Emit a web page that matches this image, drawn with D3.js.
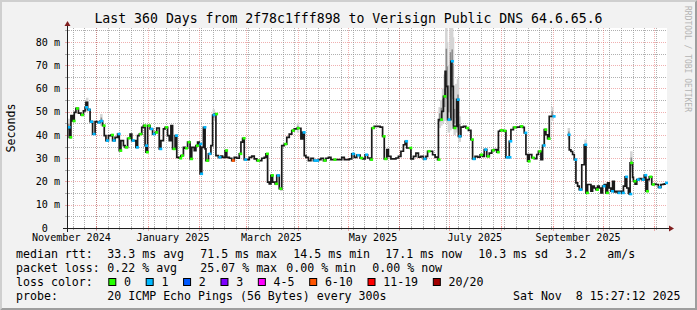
<!DOCTYPE html>
<html lang="en">
<head>
<meta charset="utf-8">
<title>Last 360 Days - Verisign Public DNS</title>
<script src="https://d3js.org/d3.v7.min.js"></script>
<style>
  body { margin: 0; background: #f2f2f2; }
  svg { display: block; font-family: "DejaVu Sans Mono", monospace; }
</style>
</head>
<body>
<script>
// median rtt (ms) per 12h rrd row; null = no data
const dates = [
  "24-11-14 00","24-11-15 00","24-11-16 00","24-11-17 00","24-11-18 00","24-11-19 00","24-11-20 12","24-11-22 00","24-11-23 12","24-11-24 12",
  "24-11-25 00","24-11-26 00","24-11-27 12","24-11-29 00","24-11-30 12","24-12-02 00","24-12-03 12","24-12-05 00","24-12-06 00","24-12-07 00",
  "24-12-08 12","24-12-10 00","24-12-11 00","24-12-12 12","24-12-14 00","24-12-15 00","24-12-16 00","24-12-17 12","24-12-18 12","24-12-20 00",
  "24-12-21 12","24-12-22 12","24-12-24 00","24-12-25 00","24-12-26 00","24-12-27 00","24-12-28 12","24-12-29 12","24-12-30 12","24-12-31 00",
  "25-01-01 00","25-01-02 12","25-01-04 00","25-01-05 12","25-01-06 12","25-01-08 00","25-01-09 00","25-01-10 12","25-01-11 12","25-01-13 00",
  "25-01-14 00","25-01-15 00","25-01-16 00","25-01-17 12","25-01-18 12","25-01-20 00","25-01-21 00","25-01-22 12","25-01-23 12","25-01-25 00",
  "25-01-26 12","25-01-27 12","25-01-29 00","25-01-30 00","25-01-31 00","25-02-01 00","25-02-01 12","25-02-02 12","25-02-03 12","25-02-04 12",
  "25-02-05 00","25-02-06 12","25-02-08 00","25-02-09 00","25-02-10 12","25-02-11 00","25-02-12 12","25-02-14 00","25-02-15 00","25-02-16 12",
  "25-02-17 12","25-02-19 00","25-02-20 12","25-02-22 00","25-02-23 12","25-02-25 00","25-02-26 00","25-02-27 00","25-02-28 00","25-03-01 12",
  "25-03-03 00","25-03-04 12","25-03-06 00","25-03-07 12","25-03-09 00","25-03-10 12","25-03-12 00","25-03-13 00","25-03-14 00","25-03-15 00",
  "25-03-16 00","25-03-17 00","25-03-18 12","25-03-19 12","25-03-21 00","25-03-22 00","25-03-22 12","25-03-24 00","25-03-25 12","25-03-27 00",
  "25-03-28 12","25-03-30 00","25-03-31 12","25-04-02 00","25-04-03 00","25-04-04 00","25-04-05 00","25-04-06 00","25-04-07 12","25-04-09 00",
  "25-04-10 12","25-04-12 00","25-04-13 12","25-04-15 00","25-04-16 12","25-04-18 00","25-04-19 12","25-04-21 00","25-04-22 12","25-04-24 12",
  "25-04-26 12","25-04-27 12","25-04-29 00","25-04-30 12","25-05-02 00","25-05-03 12","25-05-05 00","25-05-06 12","25-05-08 12","25-05-10 00",
  "25-05-11 12","25-05-13 00","25-05-14 12","25-05-15 12","25-05-17 00","25-05-18 12","25-05-20 12","25-05-22 00","25-05-23 00","25-05-24 12",
  "25-05-25 12","25-05-27 00","25-05-28 12","25-05-30 00","25-05-31 12","25-06-02 00","25-06-03 12","25-06-04 12","25-06-05 12","25-06-07 00",
  "25-06-08 00","25-06-09 12","25-06-11 00","25-06-12 12","25-06-14 00","25-06-15 12","25-06-17 00","25-06-18 00","25-06-19 12","25-06-21 00",
  "25-06-22 12","25-06-24 00","25-06-24 12","25-06-25 12","25-06-26 12","25-06-27 12","25-06-28 12","25-06-29 00","25-06-30 00","25-07-01 00",
  "25-07-02 00","25-07-02 12","25-07-03 12","25-07-04 12","25-07-05 12","25-07-06 12","25-07-08 00","25-07-09 12","25-07-11 00","25-07-12 12",
  "25-07-14 00","25-07-15 00","25-07-16 12","25-07-18 00","25-07-19 12","25-07-21 00","25-07-22 00","25-07-23 12","25-07-25 00","25-07-26 12",
  "25-07-28 00","25-07-29 12","25-07-30 12","25-07-31 12","25-08-02 12","25-08-04 00","25-08-05 12","25-08-06 00","25-08-07 00","25-08-08 12",
  "25-08-10 12","25-08-12 12","25-08-14 00","25-08-15 00","25-08-16 00","25-08-17 00","25-08-18 00","25-08-19 12","25-08-21 00","25-08-22 12",
  "25-08-23 12","25-08-25 00","25-08-26 00","25-08-27 00","25-08-28 00","25-08-29 00","25-08-30 00","25-08-31 00","25-09-01 00","25-09-02 00",
  "25-09-10 00","25-09-11 00","25-09-12 00","25-09-13 00","25-09-14 00","25-09-15 00","25-09-16 00","25-09-17 00","25-09-18 12","25-09-20 00",
  "25-09-21 00","25-09-22 00","25-09-23 00","25-09-24 00","25-09-25 00","25-09-26 00","25-09-27 00","25-09-28 00","25-09-29 00","25-09-30 00",
  "25-10-01 00","25-10-02 00","25-10-03 00","25-10-04 00","25-10-05 00","25-10-06 00","25-10-07 00","25-10-08 00","25-10-09 00","25-10-10 00",
  "25-10-11 00","25-10-12 12","25-10-13 12","25-10-14 12","25-10-15 12","25-10-16 12","25-10-17 00","25-10-17 12","25-10-19 00","25-10-19 12",
  "25-10-20 12","25-10-21 12","25-10-23 00","25-10-24 12","25-10-26 00","25-10-27 00","25-10-28 00","25-10-29 00","25-10-30 12","25-11-01 00",
  "25-11-02 00","25-11-03 12","25-11-05 00","25-11-06 12","25-11-07 12"
];
const rtt = [
  43.3,39,48.3,46,49.7,51.4,49.4,48.6,50.4,51.9,
  54,50.9,45.7,40.4,45.7,45.4,46,44,39.7,37.6,
  39.7,40,37.6,39,40.4,33.3,37.6,35.4,34.7,38.6,
  40.4,37.6,37.6,34.7,39.7,40.4,43.3,44,35.4,32.6,
  44,42.6,40.4,41.1,43,34,37.6,42.6,43.3,39.7,
  37.6,44,34,39.7,30.4,30,31.1,34.7,34.3,36.9,
  29.7,34.7,33.3,35.4,36.9,36.1,23.3,34.7,43.3,34,
  29,31.9,35.4,48.6,49,31.1,30.4,30.9,30.4,33.3,
  30.4,30,29,30.4,30,31.9,36.9,38.6,29.4,29.4,
  30.4,30.9,29.7,29,29,30,30.4,31.9,19.7,19,
  22.6,19.7,19,22.6,16.9,16.6,35.4,36.1,39,40.4,
  41.9,42.6,42.9,42.9,38.3,41.1,31.1,30.4,29,30,
  29,29,29.4,30,29,30,30.4,29.4,29.4,29.4,
  29.4,30.4,29.4,29.4,29.7,31.9,30.4,31.3,30.1,29.7,
  31.5,30.1,29.4,43,43.7,43.7,43.4,39.4,29.7,33.7,
  30.8,29.7,29.7,30.1,30.8,33,35.8,37.3,34.4,34.4,
  29.7,30.8,32.2,30.5,30.8,29.7,30.8,33,33,31.5,
  30.5,29.4,46.6,46.6,50.2,56.6,67.4,60.9,46.6,46.6,
  71.7,60.9,43,43.7,55.2,39.4,43.4,43.7,43,42,
  38,29.7,30.8,30.5,31.5,30.8,33.7,30.8,32.2,33.4,
  33.7,32.6,41.6,42,41.8,30.4,30.4,37.3,42.3,43.3,
  43.4,43.7,43.3,40.9,31.6,28.7,31.6,30.2,29.8,31.6,
  33,29.4,35.5,42.3,40.1,38.4,48,48,48,null,
  40.1,33.6,32.9,31.6,29.4,19.4,18,16.5,27.2,35.8,
  15.1,18.7,18.7,15.8,18,17.2,16.5,18,17.2,15.1,
  18,18.7,15.1,19.4,17.2,15.8,20.1,15.5,15.8,15.1,
  15.8,15.1,18,22,17.2,15.1,14.6,28,21.8,20.1,
  18.9,20.8,21.2,20.8,22.7,15.8,20.8,22,18.7,18.9,
  18.7,17.5,18.7,18.9,19.4
];
// loss class shown on the median ("" = not visible under the smoke)
const loss = [
  "1","0","","0","","0","","0","","1",
  "","1","1","1","","1","1","0","","1",
  "","0","1","","1","0","","","0","0",
  "","1","","1","","0","","0","1","0",
  "0","1","1","0","","1","","","0","",
  "","","0","1","","0","0","","0","0",
  "0","","","0","","1","1","","1","",
  "0","1","","1","0","","1","","","0",
  "","","6-10","","","0","","0","1","",
  "","","","0","","","","0","","",
  "0","","0","1","0","","","0","","",
  "0","","0","","","1","","","","",
  "1","1","","","0","","","","0","",
  "","","","","","1","","1","0","",
  "1","","0","0","","","","0","0","",
  "","","","","","","","1","","0",
  "","","","","","1","","0","","",
  "","0","","0","","0","","","1","",
  "1","","0","","1","1","","","0","",
  "0","1","","","0","","1","0","","0",
  "","0","","0","0","1","1","1","","0",
  "","0","","1","","0","","0","","",
  "0","","1","0","","0","","","1","",
  "1","","","","1","","","1","","1",
  "0","","","","","","0","","","",
  "1","","0","","","1","","","","1",
  "","1","","1","","","1","0","","0",
  "","1","","1","1","0","","0","0","",
  "","1","","","1"
];
// visible ping spread (smoke), ms
const smokeDates = ["24-11-14 00","24-11-25 00","24-12-03 12","25-02-09 00","25-03-31 12",
  "25-06-24 12","25-06-25 12","25-06-26 12","25-06-27 12","25-06-28 12","25-06-29 00","25-06-30 00",
  "25-07-01 00","25-07-02 00","25-07-02 12","25-07-03 12","25-07-04 12","25-07-05 12","25-07-06 12",
  "25-08-31 00","25-09-10 00","25-09-20 00","25-10-17 12"];
const smokeLo = [40,50,44,46,41, 43,44,45,46,47,45,41, 42,46,44,40,41,42,37, 46,38,30,24];
const smokeHi = [47,56,49,51,45, 52,55,60,66,90,80,70, 90,90,82,56,62,64,48, 52,43,38,33];

const lossLabels = ["0","1","2","3","4-5","6-10","11-19","20/20"];
const lossColors = ["#26ff00","#00b8ff","#0059ff","#7e00ff","#ff00ff","#ff5500","#ff0000","#a10000"];

const yTicks = [0,10,20,30,40,50,60,70,80];
const labelMonths = ["2024-11","2025-01","2025-03","2025-05","2025-07","2025-09"];

const rttStats = ["33.3 ms avg","71.5 ms max","14.5 ms min","17.1 ms now","10.3 ms sd","3.2","am/s"];
const lossStats = ["0.22 % avg","25.07 % max","0.00 % min","0.00 % now"];

// ---- layout
const W = 697, H = 310;
const pLeft = 67, pTop = 28, pw = 600, ph = 200;
const end = new Date(2025, 10, 8, 15, 27, 12);
const start = d3.timeDay.offset(end, -360);

const parse = d3.timeParse("%y-%m-%d %H");
const x = d3.scaleTime().domain([start, end]).range([pLeft, pLeft + pw]);
const y = d3.scaleLinear().domain([0, 86]).range([pTop + ph, pTop]);
const lossColor = d3.scaleOrdinal(lossLabels, lossColors);

const svg = d3.select("body").append("svg").attr("width", W).attr("height", H);

// background + bevel
svg.append("rect").attr("width", W).attr("height", H).attr("fill", "#f2f2f2");
svg.append("polygon").attr("fill", "#cfcfcf")
  .attr("points", `0,0 ${W},0 ${W-2},2 2,2 2,${H-2} 0,${H}`);
svg.append("polygon").attr("fill", "#9e9e9e")
  .attr("points", `2,${H-2} ${W-2},${H-2} ${W-2},2 ${W},0 ${W},${H} 0,${H}`);
svg.append("rect").attr("x", pLeft).attr("y", pTop).attr("width", pw).attr("height", ph).attr("fill", "#fff");

svg.append("defs").append("clipPath").attr("id", "plot")
  .append("rect").attr("x", pLeft).attr("y", pTop).attr("width", pw + 1).attr("height", ph);

const crisp = v => Math.round(v) + 0.5;
const gridCol = "rgba(143,143,143,0.7)", mgridCol = "rgba(222,79,79,0.45)";

// grid
const grid = svg.append("g").attr("stroke-width", 1).attr("stroke-dasharray", "1,1").attr("fill", "none");
const hMinor = d3.range(5, 86, 5);
grid.selectAll("line.hg").data(hMinor).join("line")
  .attr("x1", pLeft).attr("x2", pLeft + pw)
  .attr("y1", d => crisp(y(d))).attr("y2", d => crisp(y(d)))
  .attr("stroke", d => d % 10 === 0 ? mgridCol : gridCol);
const weeks = d3.timeSunday.range(start, end);
grid.selectAll("line.vg").data(weeks).join("line")
  .attr("x1", d => crisp(x(d))).attr("x2", d => crisp(x(d)))
  .attr("y1", pTop).attr("y2", pTop + ph).attr("stroke", gridCol);
const months = d3.timeMonth.range(start, end);
grid.selectAll("line.vm").data(months).join("line")
  .attr("x1", d => crisp(x(d))).attr("x2", d => crisp(x(d)))
  .attr("y1", pTop).attr("y2", pTop + ph).attr("stroke", mgridCol);

// axis tick marks
const ticks = svg.append("g").attr("stroke-width", 1);
ticks.selectAll("line.xt").data(weeks).join("line")
  .attr("x1", d => crisp(x(d))).attr("x2", d => crisp(x(d)))
  .attr("y1", pTop + ph - 1).attr("y2", pTop + ph + 2).attr("stroke", gridCol);
ticks.selectAll("line.xm").data(months).join("line")
  .attr("x1", d => crisp(x(d))).attr("x2", d => crisp(x(d)))
  .attr("y1", pTop + ph - 2).attr("y2", pTop + ph + 3).attr("stroke", mgridCol);
ticks.selectAll("line.yt").data(hMinor).join("line")
  .attr("x1", pLeft - 2).attr("x2", pLeft + 2)
  .attr("y1", d => crisp(y(d))).attr("y2", d => crisp(y(d)))
  .attr("stroke", d => d % 10 === 0 ? mgridCol : gridCol);

// data
const pts = dates.map((d, i) => ({ t: parse(d), v: rtt[i], l: loss[i] }));
const smoke = smokeDates.map((d, i) => ({ t: parse(d), lo: smokeLo[i], hi: smokeHi[i] }));
const plot = svg.append("g").attr("clip-path", "url(#plot)");

plot.selectAll("rect.smoke").data(smoke).join("rect")
  .attr("x", d => x(d.t)).attr("width", 2.5)
  .attr("y", d => y(d.hi)).attr("height", d => y(d.lo) - y(d.hi))
  .attr("fill", "#d4d4d4");
plot.selectAll("rect.smoke2").data(smoke).join("rect")
  .attr("x", d => x(d.t) + 0.5).attr("width", 1.5)
  .attr("y", d => y(d.hi - (d.hi - d.lo) * 0.3))
  .attr("height", d => y(d.lo + (d.hi - d.lo) * 0.3) - y(d.hi - (d.hi - d.lo) * 0.3))
  .attr("fill", "#8a8a8a");

const line = d3.line()
  .defined(d => d.v != null)
  .x(d => x(d.t)).y(d => y(d.v))
  .curve(d3.curveStepAfter);
plot.append("path").datum(pts)
  .attr("d", line).attr("fill", "none")
  .attr("stroke", "#1a1a1a").attr("stroke-width", 1.7);

plot.selectAll("rect.mark").data(pts.filter(d => d.v != null && d.l !== "")).join("rect")
  .attr("x", d => x(d.t)).attr("y", d => y(d.v) - 1.3)
  .attr("width", 3).attr("height", 2.6)
  .attr("fill", d => lossColor(d.l));

// axes lines + arrows
svg.append("line").attr("x1", pLeft - 4).attr("x2", pLeft + pw + 4)
  .attr("y1", pTop + ph + 0.5).attr("y2", pTop + ph + 0.5).attr("stroke", "#1f1f1f");
svg.append("line").attr("x1", pLeft + 0.5).attr("x2", pLeft + 0.5)
  .attr("y1", pTop + ph + 4).attr("y2", pTop - 4).attr("stroke", "#1f1f1f");
svg.append("polygon").attr("fill", "#801f1f")
  .attr("points", `${pLeft+pw+2},${pTop+ph-2.5} ${pLeft+pw+2},${pTop+ph+3.5} ${pLeft+pw+7},${pTop+ph+0.5}`);
svg.append("polygon").attr("fill", "#801f1f")
  .attr("points", `${pLeft-2.5},${pTop-2} ${pLeft+3.5},${pTop-2} ${pLeft+0.5},${pTop-7}`);

// axis labels (zero has no unit, so it sits two columns further left)
const yAxis = d3.axisLeft(y).tickValues(yTicks).tickSize(0).tickPadding(7)
  .tickFormat(d => d === 0 ? "0" : d + " m");
svg.append("g").attr("transform", `translate(${pLeft},0)`).call(yAxis)
  .call(g => g.select(".domain").remove())
  .call(g => g.selectAll("text")
    .attr("fill", "#000").attr("font-size", 10.1)
    .attr("font-family", "DejaVu Sans Mono")
    .attr("dx", d => d === 0 ? -12.2 : 0));

const parseMonth = d3.timeParse("%Y-%m");
const labelAt = labelMonths.map(m => d3.timeDay.offset(parseMonth(m), 15));
const xAxis = d3.axisBottom(x).tickValues(labelAt).tickSize(0).tickPadding(6)
  .tickFormat(d => d3.timeFormat("%B %Y")(d3.timeMonth.floor(d)));
svg.append("g").attr("transform", `translate(0,${pTop + ph})`).call(xAxis)
  .call(g => g.select(".domain").remove())
  .call(g => g.selectAll("text")
    .attr("fill", "#000").attr("font-size", 10.1)
    .attr("font-family", "DejaVu Sans Mono"));

// title, unit, watermark
svg.append("text").attr("x", W / 2).attr("y", 23).attr("text-anchor", "middle")
  .attr("font-size", 13.2).attr("fill", "#000")
  .text("Last 360 Days from 2f78c1fff898 to Verisign Public DNS 64.6.65.6");
svg.append("text").attr("transform", `translate(15,${pTop + ph / 2}) rotate(-90)`)
  .attr("text-anchor", "middle").attr("font-size", 11.6).attr("fill", "#000")
  .text("Seconds");
svg.append("text").attr("transform", `translate(685,6) rotate(90)`)
  .attr("font-size", 8).attr("fill", "#b4b4b4")
  .text("RRDTOOL / TOBI OETIKER");

// legend
const lg = svg.append("g").attr("font-size", 11.6).attr("fill", "#000");
const put = (s, xx, yy) => lg.append("text").attr("x", xx).attr("y", yy)
  .attr("xml:space", "preserve").style("white-space", "pre").text(s);
const row = [258, 272, 286, 300];
put("median rtt:", 16, row[0]);
const rttX = [107.3, 200.3, 293.3, 385.3, 478.3, 565.3, 607.3];
rttStats.forEach((s, i) => put(s, rttX[i], row[0]));
put("packet loss:", 16, row[1]);
const lossX = [107.3, 200.3, 286.3, 372.3];
lossStats.forEach((s, i) => put(s, lossX[i], row[1]));
put("loss color:", 16, row[2]);
let bx = 108.3;
lossLabels.forEach(l => {
  lg.append("rect").attr("x", bx + 0.5).attr("y", row[2] - 7.5).attr("width", 7).attr("height", 7)
    .attr("fill", lossColor(l)).attr("stroke", "#000").attr("stroke-width", 1);
  const t = put(l, bx + 15.7, row[2]);
  bx = bx + 15.7 + t.node().getComputedTextLength() + 14.7;
});
put("probe:", 16, row[3]);
put("20 ICMP Echo Pings (56 Bytes) every 300s", 107.3, row[3]);
put("Sat Nov  8 15:27:12 2025", 680.5, row[3]).attr("text-anchor", "end");
</script>
</body>
</html>
